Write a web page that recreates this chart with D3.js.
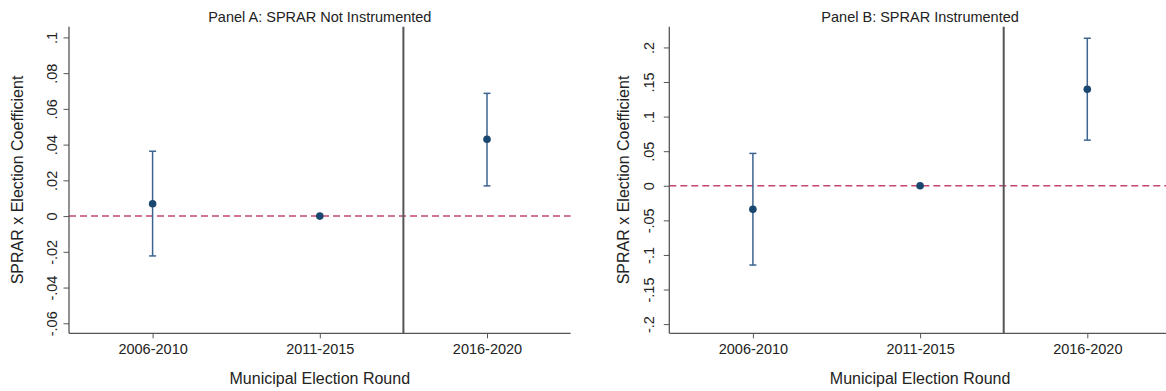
<!DOCTYPE html>
<html>
<head>
<meta charset="utf-8">
<script src="https://cdn.jsdelivr.net/npm/d3@7"></script>
<style>
  html, body { margin: 0; padding: 0; background: #fff; }
  svg { display: block; font-family: "Liberation Sans", Arial, sans-serif; }
</style>
</head>
<body>
<svg id="chart" width="1166" height="391"></svg>
<script>
// Election rounds on the x axis
const rounds = ["2006-2010", "2011-2015", "2016-2020"];

// Panel A: SPRAR not instrumented — coefficients and 95% CI bounds
const coefA = [0.0069, 0, 0.043];
const lowA  = [-0.0223, null, 0.0169];
const highA = [0.0363, null, 0.0687];
const tickValuesA = [-0.06, -0.04, -0.02, 0, 0.02, 0.04, 0.06, 0.08, 0.1];
const tickLabelsA = ["-.06", "-.04", "-.02", "0", ".02", ".04", ".06", ".08", ".1"];

// Panel B: SPRAR instrumented — coefficients and 95% CI bounds
const coefB = [-0.0341, 0, 0.1395];
const lowB  = [-0.1146, null, 0.066];
const highB = [0.0468, null, 0.2133];
const tickValuesB = [-0.2, -0.15, -0.1, -0.05, 0, 0.05, 0.1, 0.15, 0.2];
const tickLabelsB = ["-.2", "-.15", "-.1", "-.05", "0", ".05", ".1", ".15", ".2"];

const titles = ["Panel A: SPRAR Not Instrumented", "Panel B: SPRAR Instrumented"];
const yTitle = "SPRAR x Election Coefficient";
const xTitle = "Municipal Election Round";

const svg = d3.select("#chart");

const AXIS = "#555555";
const POINT = "#1a476f";
const CI = "#3d6590";
const REF = "#c5476d";

function panel(cfg) {
  const g = svg.append("g");
  const top = 26.7, bottom = 333.3;

  const x = d3.scaleLinear().domain([0.5, 3.5]).range([cfg.left, cfg.left + 3 * 167.2]);
  const y = d3.scaleLinear().domain(cfg.yDomain).range([bottom, top]);

  // zero reference line
  g.append("line")
    .attr("x1", x(0.5)).attr("x2", x(3.5))
    .attr("y1", y(0)).attr("y2", y(0))
    .attr("stroke", REF).attr("stroke-width", 1.5)
    .attr("stroke-dasharray", "7,4");

  // policy cut-off line between rounds 2 and 3
  g.append("line")
    .attr("x1", x(2.5)).attr("x2", x(2.5))
    .attr("y1", top).attr("y2", bottom)
    .attr("stroke", AXIS).attr("stroke-width", 2);

  // y axis
  const yAxis = d3.axisLeft(y)
    .tickValues(cfg.tickValues)
    .tickFormat((d, i) => cfg.tickLabels[i])
    .tickSize(5.5)
    .tickPadding(0);
  const ya = g.append("g").attr("transform", `translate(${cfg.left},0)`).call(yAxis);
  ya.select(".domain").attr("d", `M0,${top}V${bottom}`).attr("stroke", AXIS).attr("stroke-width", 1.3);
  ya.selectAll(".tick line").attr("stroke", AXIS).attr("stroke-width", 1);
  ya.selectAll(".tick text")
    .attr("x", null).attr("dy", null)
    .attr("transform", `translate(${-cfg.labelGap},0) rotate(-90)`)
    .attr("text-anchor", "middle")
    .attr("fill", "#222")
    .style("font-size", "14.5px")
    .style("font-family", "'Liberation Sans', Arial, sans-serif");

  // x axis
  const xAxis = d3.axisBottom(x)
    .tickValues([1, 2, 3])
    .tickFormat((d) => rounds[d - 1])
    .tickSize(5)
    .tickPadding(5);
  const xa = g.append("g").attr("transform", `translate(0,${bottom})`).call(xAxis);
  xa.select(".domain").attr("d", `M${cfg.left},0H${x(3.5)}`).attr("stroke", AXIS).attr("stroke-width", 1.3);
  xa.selectAll(".tick line").attr("stroke", AXIS).attr("stroke-width", 1);
  xa.selectAll(".tick text")
    .attr("dy", null).attr("y", 21.2)
    .attr("fill", "#222")
    .style("font-size", "14.5px")
    .style("font-family", "'Liberation Sans', Arial, sans-serif");

  // confidence intervals
  const idx = [0, 1, 2].filter(i => cfg.low[i] !== null);
  const ci = g.append("g").attr("stroke", CI).attr("stroke-width", 1.5).attr("fill", "none");
  idx.forEach(i => {
    const cx = x(i + 1);
    ci.append("line").attr("x1", cx).attr("x2", cx).attr("y1", y(cfg.low[i])).attr("y2", y(cfg.high[i]));
    ci.append("line").attr("x1", cx - 3.5).attr("x2", cx + 3.5).attr("y1", y(cfg.low[i])).attr("y2", y(cfg.low[i]));
    ci.append("line").attr("x1", cx - 3.5).attr("x2", cx + 3.5).attr("y1", y(cfg.high[i])).attr("y2", y(cfg.high[i]));
  });

  // point estimates
  g.selectAll("circle.pt").data(cfg.coef).enter().append("circle")
    .attr("class", "pt")
    .attr("cx", (d, i) => x(i + 1))
    .attr("cy", d => y(d))
    .attr("r", 3.8)
    .attr("fill", POINT);

  // titles
  const cxMid = (cfg.left + x(3.5)) / 2;
  g.append("text")
    .attr("x", cxMid).attr("y", 21.5)
    .attr("text-anchor", "middle")
    .attr("fill", "#222")
    .style("font-size", "14.5px")
    .text(cfg.title);

  g.append("text")
    .attr("x", cxMid).attr("y", 383.5)
    .attr("text-anchor", "middle")
    .attr("fill", "#222")
    .style("font-size", "16px")
    .text(xTitle);

  g.append("text")
    .attr("transform", `translate(${cfg.yTitleX},${(top + bottom) / 2}) rotate(-90)`)
    .attr("text-anchor", "middle")
    .attr("fill", "#222")
    .style("font-size", "16px")
    .text(yTitle);
}

panel({
  left: 69, yDomain: [-0.0656, 0.106],
  tickValues: tickValuesA, tickLabels: tickLabelsA,
  coef: coefA, low: lowA, high: highA,
  title: titles[0], labelGap: 12.3, yTitleX: 23
});

panel({
  left: 669.3, yDomain: [-0.2133, 0.23],
  tickValues: tickValuesB, tickLabels: tickLabelsB,
  coef: coefB, low: lowB, high: highB,
  title: titles[1], labelGap: 15, yTitleX: 629
});
</script>
</body>
</html>
